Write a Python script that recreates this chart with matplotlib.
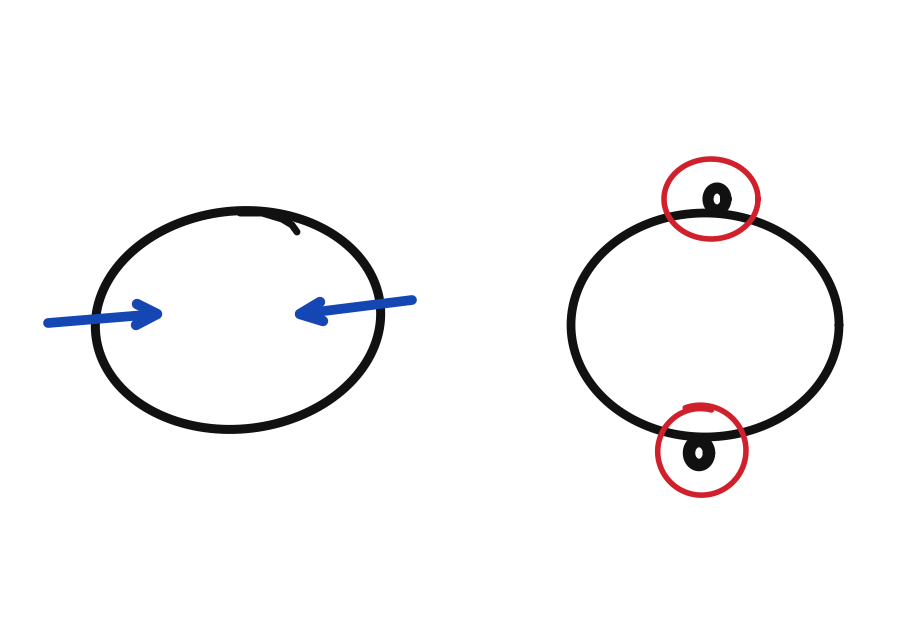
import numpy as np
import matplotlib
matplotlib.use("Agg")
import matplotlib.pyplot as plt

# Shape parameters (pixel coordinates, y down)
left_ellipse = dict(cx=238, cy=320, a=143, b=109, theta=-6)
right_ellipse = dict(cx=705, cy=325, a=134, b=112, theta=0)
left_hook_x = [240, 262, 282, 292, 297]
left_hook_y = [213, 213, 219, 225, 232]
arrow_left = dict(start=(48, 323), tip=(157, 314), barb1=(137, 304), barb2=(136, 325))
arrow_right = dict(start=(412, 300), tip=(300, 314), barb1=(320, 302), barb2=(323, 321))
loop_top = dict(cx=717, cy=199, rx=9, ry=11)
loop_bottom = dict(cx=699, cy=453, rx=10, ry=12)
red_top = dict(cx=711, cy=199, rx=47, ry=40)
red_bottom = dict(cx=701, cy=451, rx=46, ry=46)

BLACK = "#111111"
BLUE = "#1446b4"
RED = "#d0202c"

fig = plt.figure(figsize=(9, 6.41), dpi=100)
ax = fig.add_axes([0, 0, 1, 1])
ax.set_xlim(0, 900)
ax.set_ylim(641, 0)
ax.axis("off")


def ell(p, t0=0, t1=2 * np.pi, n=400, grow=0.0):
    t = np.linspace(t0, t1, n)
    th = np.deg2rad(p.get("theta", 0))
    s = 1 + grow * (t - t0) / (t1 - t0)
    a = p.get("a", p.get("rx")) * s
    b = p.get("b", p.get("ry")) * s
    x = p["cx"] + a * np.cos(t) * np.cos(th) - b * np.sin(t) * np.sin(th)
    y = p["cy"] + a * np.cos(t) * np.sin(th) + b * np.sin(t) * np.cos(th)
    return x, y


kw = dict(solid_capstyle="round", solid_joinstyle="round")

# Left ellipse
x, y = ell(left_ellipse, n=600)
ax.plot(x, y, color=BLACK, lw=6.5, **kw)
ax.plot(left_hook_x, left_hook_y, color=BLACK, lw=5.0, **kw)

# Right ellipse
x, y = ell(right_ellipse, n=600)
ax.plot(x, y, color=BLACK, lw=6.3, **kw)

# Loops
x, y = ell(loop_top)
ax.plot(x, y, color=BLACK, lw=8.0, **kw)
x, y = ell(loop_bottom)
ax.plot(x, y, color=BLACK, lw=9.0, **kw)

# Red circles
x, y = ell(red_top)
ax.plot(x, y, color=RED, lw=4.0, **kw)
x, y = ell(red_bottom, -np.pi / 2 - 0.35, 1.5 * np.pi + 0.25, grow=-0.08)
ax.plot(x, y, color=RED, lw=4.0, **kw)

# Blue arrows
for arr in (arrow_left, arrow_right):
    sx, sy = arr["start"]
    tx, ty = arr["tip"]
    ax.plot([sx, tx], [sy, ty], color=BLUE, lw=7.0, **kw)
    bx = [arr["barb1"][0], tx, arr["barb2"][0]]
    by = [arr["barb1"][1], ty, arr["barb2"][1]]
    ax.plot(bx, by, color=BLUE, lw=7.5, **kw)

fig.savefig("out.png", dpi=100, facecolor="white")
